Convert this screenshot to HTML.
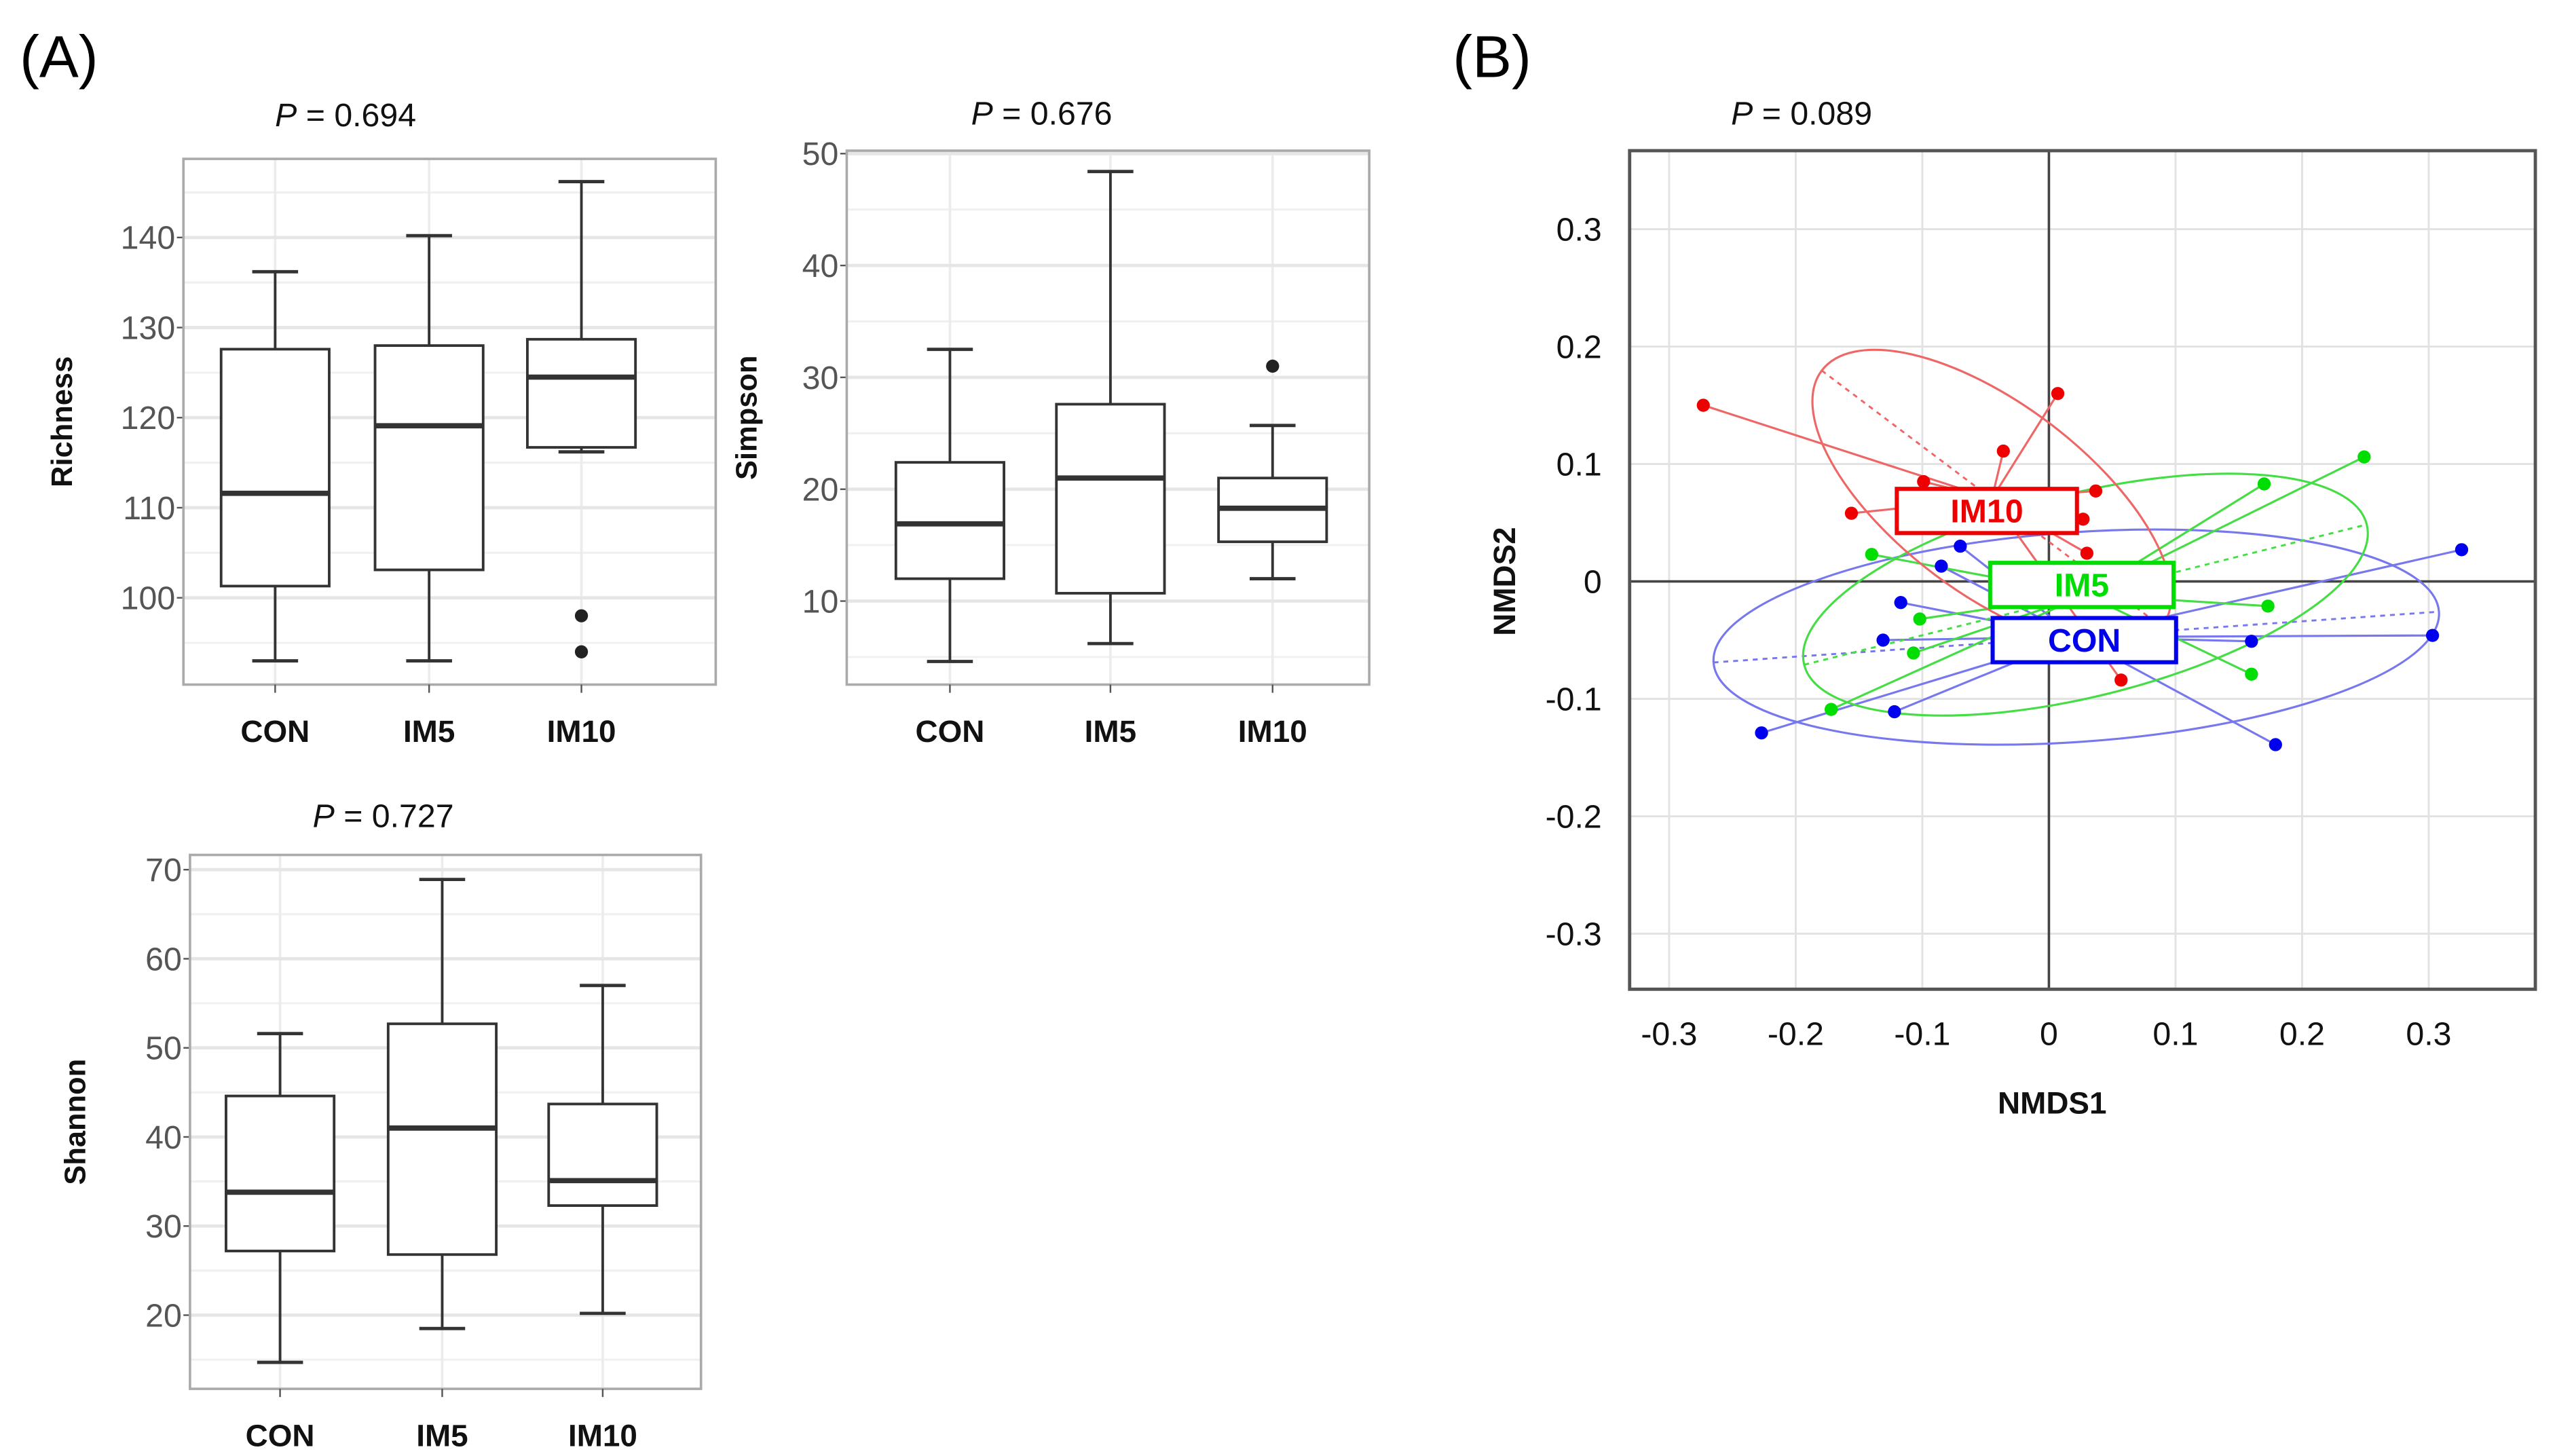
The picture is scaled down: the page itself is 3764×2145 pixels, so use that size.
<!DOCTYPE html>
<html><head><meta charset="utf-8">
<style>
html,body{margin:0;padding:0;background:#fff;}
svg{display:block;}
text{font-family:"Liberation Sans",Arial,sans-serif;}
</style></head>
<body>
<svg id="fig" width="3764" height="2145" viewBox="0 0 1560 889" preserveAspectRatio="none" xmlns="http://www.w3.org/2000/svg">
<rect x="0" y="0" width="1560" height="889" fill="#fff"/>
<text x="12" y="47" font-size="36">(A)</text>
<text x="887" y="47" font-size="36">(B)</text>
</svg>
<script>
// ===== Boxplot data =====
const boxCategories = ['CON', 'IM5', 'IM10'];
const richnessMin = [93, 93, 116.2];
const richnessQ1 = [101.3, 103.1, 116.7];
const richnessMed = [111.6, 119.1, 124.5];
const richnessQ3 = [127.6, 128, 128.7];
const richnessMax = [136.2, 140.2, 146.2];
const richnessOutliers = [[], [], [98, 94]];
const richnessTicks = [100, 110, 120, 130, 140];

const simpsonMin = [4.6, 6.2, 12];
const simpsonQ1 = [12, 10.7, 15.3];
const simpsonMed = [16.9, 21, 18.3];
const simpsonQ3 = [22.4, 27.6, 21];
const simpsonMax = [32.5, 48.4, 25.7];
const simpsonOutliers = [[], [], [31]];
const simpsonTicks = [10, 20, 30, 40, 50];

const shannonMin = [14.7, 18.5, 20.2];
const shannonQ1 = [27.2, 26.8, 32.3];
const shannonMed = [33.8, 41, 35.1];
const shannonQ3 = [44.6, 52.7, 43.7];
const shannonMax = [51.6, 68.9, 57];
const shannonOutliers = [[], [], []];
const shannonTicks = [20, 30, 40, 50, 60, 70];

// ===== NMDS data =====
const im10X = [-0.273, 0.007, -0.036, -0.099, 0.037, -0.156, 0.027, 0.030, 0.057];
const im10Y = [0.150, 0.160, 0.111, 0.085, 0.077, 0.058, 0.053, 0.024, -0.084];
const im5X = [0.249, 0.170, -0.140, 0.173, -0.102, -0.107, 0.160, -0.172];
const im5Y = [0.106, 0.083, 0.023, -0.021, -0.032, -0.061, -0.079, -0.109];
const conX = [0.326, -0.070, -0.085, -0.117, -0.131, 0.303, 0.160, -0.122, -0.227, 0.179];
const conY = [0.027, 0.030, 0.013, -0.018, -0.050, -0.046, -0.051, -0.111, -0.129, -0.139];
const nmdsTicks = [-0.3, -0.2, -0.1, 0, 0.1, 0.2, 0.3];
const nmdsTickLabels = ['-0.3', '-0.2', '-0.1', '0', '0.1', '0.2', '0.3'];

const NS = 'http://www.w3.org/2000/svg';
const svg = document.getElementById('fig');
function mk(tag, attrs, parent) {
  const e = document.createElementNS(NS, tag);
  for (const k in attrs) e.setAttribute(k, attrs[k]);
  (parent || svg).appendChild(e);
  return e;
}

function boxPanel(cfg) {
  const g = mk('g', {});
  
  
  const y = v => cfg.y0 - (v - cfg.v0) * cfg.k;
  const cx = i => cfg.cats[i];
  const fr = mk('rect', {x: cfg.L, y: cfg.T, width: cfg.R - cfg.L, height: cfg.B - cfg.T, fill: '#fff', stroke: 'none'}, g);
  
  
  for (let i = 0; i < cfg.ticks.length; i++) {
    const step = cfg.ticks[1] - cfg.ticks[0];
    for (const mv of [cfg.ticks[i] - step / 2, cfg.ticks[i] + step / 2]) {
      const yy = y(mv);
      if (yy > cfg.T + 2 && yy < cfg.B - 2) {
        const l = mk('line', {x1: cfg.L, x2: cfg.R, y1: yy, y2: yy, stroke: '#f0f0f0', 'stroke-width': 1.2}, g);
        
        
      }
    }
  }
  for (let i = 0; i < 3; i++) {
    const l = mk('line', {x1: cx(i), x2: cx(i), y1: cfg.T, y2: cfg.B, stroke: '#ececec', 'stroke-width': 1.5}, g);
    
    
  }
  cfg.ticks.forEach(t => {
    const yy = y(t);
    const l = mk('line', {x1: cfg.L, x2: cfg.R, y1: yy, y2: yy, stroke: '#e6e6e6', 'stroke-width': 2}, g);
    
    
    const tk = mk('line', {x1: cfg.L - 4, x2: cfg.L, y1: yy, y2: yy, stroke: '#555', 'stroke-width': 1}, g);
    
    
    const tx = mk('text', {x: cfg.L - 5, y: yy + 7, 'text-anchor': 'end', 'font-size': 20, fill: '#555'}, g);
    tx.textContent = t;
    
    
  });
  const bd = mk('rect', {x: cfg.L, y: cfg.T, width: cfg.R - cfg.L, height: cfg.B - cfg.T, fill: 'none', stroke: '#aaa', 'stroke-width': 1.5}, g);
  
  
  const hw = 33, cw = 14;
  for (let i = 0; i < 3; i++) {
    const c = cx(i);
    const wl = mk('line', {x1: c, x2: c, y1: y(cfg.max[i]), y2: y(cfg.q3[i]), stroke: '#333', 'stroke-width': 1.6}, g);
    
    
    const wl2 = mk('line', {x1: c, x2: c, y1: y(cfg.q1[i]), y2: y(cfg.min[i]), stroke: '#333', 'stroke-width': 1.6}, g);
    
    
    const cap1 = mk('line', {x1: c - cw, x2: c + cw, y1: y(cfg.max[i]), y2: y(cfg.max[i]), stroke: '#333', 'stroke-width': 2}, g);
    
    
    const cap2 = mk('line', {x1: c - cw, x2: c + cw, y1: y(cfg.min[i]), y2: y(cfg.min[i]), stroke: '#333', 'stroke-width': 2}, g);
    
    
    const bx = mk('rect', {x: c - hw, y: y(cfg.q3[i]), width: 2 * hw, height: y(cfg.q1[i]) - y(cfg.q3[i]), fill: '#fff', stroke: '#333', 'stroke-width': 1.6}, g);
    
    
    const md = mk('line', {x1: c - hw, x2: c + hw, y1: y(cfg.med[i]), y2: y(cfg.med[i]), stroke: '#333', 'stroke-width': 3.2}, g);
    
    
    cfg.out[i].forEach(v => {
      const o = mk('circle', {cx: c, cy: y(v), r: 4, fill: '#222'}, g);
      
      
    });
    const xt = mk('line', {x1: c, x2: c, y1: cfg.B, y2: cfg.B + 5, stroke: '#555', 'stroke-width': 1}, g);
    
    
    const xl = mk('text', {x: c, y: cfg.B + 35, 'text-anchor': 'middle', 'font-size': 19, 'font-weight': 'bold', fill: '#111'}, g);
    xl.textContent = boxCategories[i];
    
    
  }
  const yt = mk('text', {x: 0, y: 0, transform: `translate(${cfg.ytx},${(cfg.T + cfg.B) / 2}) rotate(-90)`, 'text-anchor': 'middle', 'font-size': 18, 'font-weight': 'bold', fill: '#111'}, g);
  yt.textContent = cfg.title;
  
  
  const pt = mk('text', {x: cfg.px, y: cfg.py, 'text-anchor': 'middle', 'font-size': 20, fill: '#111'}, g);
  pt.innerHTML = '<tspan font-style="italic">P</tspan> = ' + cfg.p;
  
  
}

boxPanel({name: 'richness', title: 'Richness', p: '0.694', px: 211, py: 77, ytx: 44,
  L: 112, R: 437, T: 97, B: 418, y0: 365, v0: 100, k: 5.5, cats: [168, 262, 355],
  ticks: richnessTicks, min: richnessMin, q1: richnessQ1, med: richnessMed, q3: richnessQ3, max: richnessMax, out: richnessOutliers});
boxPanel({name: 'simpson', title: 'Simpson', p: '0.676', px: 636, py: 76, ytx: 462,
  L: 517, R: 836, T: 92, B: 418, y0: 367, v0: 10, k: 6.83, cats: [580, 678, 777],
  ticks: simpsonTicks, min: simpsonMin, q1: simpsonQ1, med: simpsonMed, q3: simpsonQ3, max: simpsonMax, out: simpsonOutliers});
boxPanel({name: 'shannon', title: 'Shannon', p: '0.727', px: 234, py: 505, ytx: 52,
  L: 116, R: 428, T: 522, B: 848, y0: 803, v0: 20, k: 5.44, cats: [171, 270, 368],
  ticks: shannonTicks, min: shannonMin, q1: shannonQ1, med: shannonMed, q3: shannonQ3, max: shannonMax, out: shannonOutliers});

// ===== NMDS panel =====
(function () {
  const L = 995, R = 1548, T = 92, B = 604;
  const x0 = 1251, kx = 773, y0 = 355, ky = 717;
  const X = v => x0 + v * kx;
  const Y = v => y0 - v * ky;
  const g = mk('g', {});
  
  
  nmdsTicks.forEach((t, i) => {
    const gl = mk('line', {x1: X(t), x2: X(t), y1: T, y2: B, stroke: '#e2e2e2', 'stroke-width': 1.2}, g);
    
    
    const gl2 = mk('line', {x1: L, x2: R, y1: Y(t), y2: Y(t), stroke: '#e2e2e2', 'stroke-width': 1.2}, g);
    
    
    const xl = mk('text', {x: X(t), y: 638, 'text-anchor': 'middle', 'font-size': 20, fill: '#111'}, g);
    xl.textContent = nmdsTickLabels[i];
    
    
    const yl = mk('text', {x: 978, y: Y(t) + 7, 'text-anchor': 'end', 'font-size': 20, fill: '#111'}, g);
    yl.textContent = nmdsTickLabels[i];
    
    
  });
  const ax1 = mk('line', {x1: X(0), x2: X(0), y1: T, y2: B, stroke: '#444', 'stroke-width': 1.5}, g);
  
  
  const ax2 = mk('line', {x1: L, x2: R, y1: Y(0), y2: Y(0), stroke: '#444', 'stroke-width': 1.5}, g);
  
  
  const fr = mk('rect', {x: L, y: T, width: R - L, height: B - T, fill: 'none', stroke: '#555', 'stroke-width': 2}, g);
  
  

  const groups = [
    {name: 'con', label: 'CON', xs: conX, ys: conY, col: '#0000ee', light: '#7777ee', a: 222, b: 64, ang: -4, lx: 0.028, ly: -0.050},
    {name: 'im5', label: 'IM5', xs: im5X, ys: im5Y, col: '#00dd00', light: '#44dd44', a: 177, b: 62, ang: -14, lx: 0.026, ly: -0.003},
    {name: 'im10', label: 'IM10', xs: im10X, ys: im10Y, col: '#ee0000', light: '#ee6666', a: 130, b: 58, ang: 37, lx: -0.049, ly: 0.060}
  ];
  groups.forEach(gr => {
    const n = gr.xs.length;
    const mx = gr.xs.reduce((s, v) => s + v, 0) / n;
    const my = gr.ys.reduce((s, v) => s + v, 0) / n;
    const cx = X(mx), cy = Y(my);
    const el = mk('ellipse', {cx: cx, cy: cy, rx: gr.a, ry: gr.b, fill: 'none', stroke: gr.light, 'stroke-width': 1.3, transform: `rotate(${gr.ang} ${cx} ${cy})`}, g);
    
    
    const rad = gr.ang * Math.PI / 180;
    const dl = mk('line', {x1: cx - gr.a * Math.cos(rad), y1: cy - gr.a * Math.sin(rad), x2: cx + gr.a * Math.cos(rad), y2: cy + gr.a * Math.sin(rad), stroke: gr.light, 'stroke-width': 1.2, 'stroke-dasharray': '3,3'}, g);
    
    
    for (let i = 0; i < n; i++) {
      const sl = mk('line', {x1: cx, y1: cy, x2: X(gr.xs[i]), y2: Y(gr.ys[i]), stroke: gr.light, 'stroke-width': 1.3}, g);
      
      
    }
  });
  groups.forEach(gr => {
    for (let i = 0; i < gr.xs.length; i++) {
      const p = mk('circle', {cx: X(gr.xs[i]), cy: Y(gr.ys[i]), r: 4, fill: gr.col}, g);
      
      
    }
  });
  groups.forEach(gr => {
    const w = gr.label === 'IM10' ? 110 : 112, h = 27;
    const bx = X(gr.lx), by = Y(gr.ly);
    const r = mk('rect', {x: bx - w / 2, y: by - h / 2, width: w, height: h, fill: '#fff', stroke: gr.col, 'stroke-width': 2.5}, g);
    
    
    const t = mk('text', {x: bx, y: by + 7, 'text-anchor': 'middle', 'font-size': 20, 'font-weight': 'bold', fill: gr.col}, g);
    t.textContent = gr.label;
    
    
  });
  const xt = mk('text', {x: 1253, y: 680, 'text-anchor': 'middle', 'font-size': 19, 'font-weight': 'bold', fill: '#111'}, g);
  xt.textContent = 'NMDS1';
  
  
  const yt = mk('text', {x: 0, y: 0, transform: 'translate(925,355) rotate(-90)', 'text-anchor': 'middle', 'font-size': 19, 'font-weight': 'bold', fill: '#111'}, g);
  yt.textContent = 'NMDS2';
  
  
  const pt = mk('text', {x: 1100, y: 76, 'text-anchor': 'middle', 'font-size': 20, fill: '#111'}, g);
  pt.innerHTML = '<tspan font-style="italic">P</tspan> = 0.089';
  
  
})();
</script>
</body></html>
